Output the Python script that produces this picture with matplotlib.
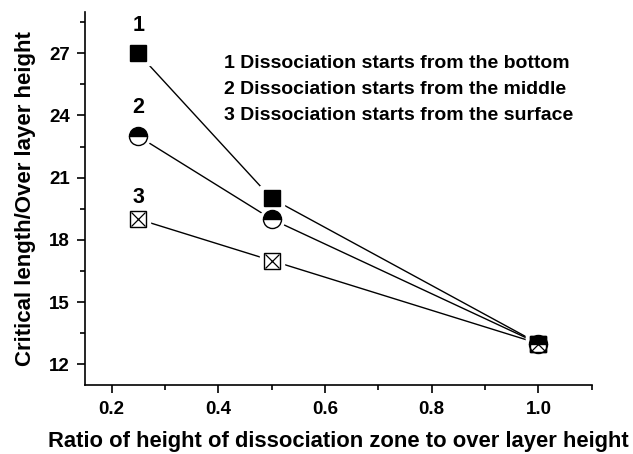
import matplotlib
matplotlib.use("Agg")
import matplotlib.pyplot as plt
from matplotlib.ticker import MultipleLocator

plt.rcParams['font.family'] = ['Liberation Sans', 'DejaVu Sans']
plt.rcParams['font.weight'] = 'bold'

ratio = [0.25, 0.5, 1.0]
bottom = [27, 20, 13]
middle = [23, 19, 13]
surface = [19, 17, 13]
curve_ids = ['1', '2', '3']
legend_lines = ['1 Dissociation starts from the bottom',
                '2 Dissociation starts from the middle',
                '3 Dissociation starts from the surface']

fig = plt.figure(figsize=(6.33, 4.54), dpi=100)
ax = fig.add_axes([0.134, 0.152, 0.801, 0.822])

ms = 11.5

# lines first, then a white halo so lines stop short of the markers
for ys in (bottom, middle, surface):
    ax.plot(ratio, ys, color='black', lw=1.0, zorder=2)
for ys, mk in ((bottom, 's'), (middle, 'o'), (surface, 's')):
    ax.plot(ratio, ys, marker=mk, ms=ms + 6, mfc='white', mec='white', ls='none', zorder=3)

ax.plot(ratio, bottom, marker='s', ms=ms, mfc='black', mec='black', ls='none', zorder=4)
ax.plot(ratio, middle, marker='o', ms=ms + 1.5, fillstyle='top', mfc='black', mfcalt='white',
        mec='black', mew=1.0, ls='none', zorder=5)
# crossed square: outline + x only, halo gives the white face
ax.plot(ratio, surface, marker='s', ms=ms, mfc='none', mec='black', mew=1.0, ls='none', zorder=6)
ax.plot(ratio, surface, marker='x', ms=ms * 0.9, mec='black', mew=0.9, ls='none', zorder=7)

# curve numbers over the first points
for lab, ys, dy in zip(curve_ids, (bottom, middle, surface), (1.35, 1.4, 1.06)):
    ax.text(ratio[0], ys[0] + dy, lab, ha='center', va='center', fontsize=15.5, fontweight='bold')

for i, t in enumerate(legend_lines):
    ax.text(0.41, 26.5 - i * 1.25, t, ha='left', va='center', fontsize=14, fontweight='bold')

ax.set_xlim(0.15, 1.1)
ax.set_ylim(11, 29)
ax.xaxis.set_major_locator(MultipleLocator(0.2))
ax.xaxis.set_minor_locator(MultipleLocator(0.1))
ax.yaxis.set_major_locator(MultipleLocator(3))
ax.yaxis.set_minor_locator(MultipleLocator(1.5))
ax.spines['top'].set_visible(False)
ax.spines['right'].set_visible(False)
for s in ('left', 'bottom'):
    ax.spines[s].set_linewidth(1.2)
ax.tick_params(which='major', direction='out', length=5.8, width=1.2, labelsize=13.5)
ax.tick_params(axis='x', which='major', pad=6)
ax.tick_params(axis='y', which='major', pad=5)
ax.tick_params(which='minor', direction='out', length=3.6, width=1.2)
for lab in ax.get_xticklabels() + ax.get_yticklabels():
    lab.set_fontweight('bold')

ax.set_xlabel('Ratio of height of dissociation zone to over layer height',
              fontsize=15.8, fontweight='bold', labelpad=9)
ax.set_ylabel('Critical length/Over layer height', fontsize=16, fontweight='bold', labelpad=9)

fig.savefig('out.png', dpi=100)
